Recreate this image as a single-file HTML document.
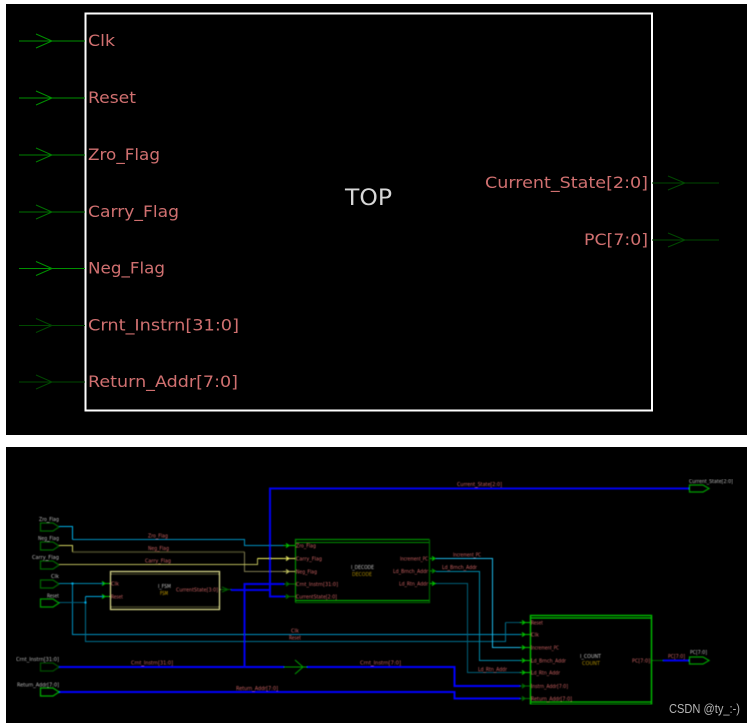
<!DOCTYPE html>
<html><head><meta charset="utf-8"><style>
html,body{margin:0;padding:0;background:#fff}
svg{display:block}
text{font-family:"DejaVu Sans",sans-serif}
</style></head><body>
<svg width="755" height="726" viewBox="0 0 755 726" xmlns="http://www.w3.org/2000/svg">
<defs><filter id="b" x="0" y="0" width="100%" height="100%"><feGaussianBlur stdDeviation="0.4"/></filter></defs>
<rect width="755" height="726" fill="#fff"/>
<rect x="6" y="4" width="741" height="431" fill="#000"/>
<rect x="6" y="447" width="741" height="276" fill="#000"/>

<!-- TOP PANEL -->
<rect x="85.5" y="13.5" width="566.5" height="397" fill="none" stroke="#ffffff" stroke-width="2"/>
<g fill="none" stroke-width="1">
<path stroke="#009000" d="M19 41H85M36 34L52 41L36 48"/>
<path stroke="#009000" d="M19 98H85M36 91L52 98L36 105"/>
<path stroke="#008000" d="M19 155H85M36 148L52 155L36 162"/>
<path stroke="#007000" d="M19 212H85M36 205L52 212L36 219"/>
<path stroke="#009000" d="M19 268.5H85M36 261.5L52 268.5L36 275.5"/>
<path stroke="#004800" d="M19 325.5H85M36 318.5L52 325.5L36 332.5"/>
<path stroke="#004800" d="M19 382H85M36 375L52 382L36 389"/>
<path stroke="#004800" d="M652 183H719M668 176L685 183L668 190"/>
<path stroke="#004800" d="M652 240H719M668 233L685 240L668 247"/>
</g>
<g fill="#d07070" font-size="16">
<text x="88" y="46" textLength="27" lengthAdjust="spacingAndGlyphs">Clk</text>
<text x="88" y="103" textLength="48" lengthAdjust="spacingAndGlyphs">Reset</text>
<text x="88" y="160" textLength="72" lengthAdjust="spacingAndGlyphs">Zro_Flag</text>
<text x="88" y="217" textLength="91" lengthAdjust="spacingAndGlyphs">Carry_Flag</text>
<text x="88" y="273.5" textLength="77" lengthAdjust="spacingAndGlyphs">Neg_Flag</text>
<text x="88" y="330.5" textLength="151" lengthAdjust="spacingAndGlyphs">Crnt_Instrn[31:0]</text>
<text x="88" y="387" textLength="150" lengthAdjust="spacingAndGlyphs">Return_Addr[7:0]</text>
<text x="485" y="188" textLength="163" lengthAdjust="spacingAndGlyphs">Current_State[2:0]</text>
<text x="584" y="245" textLength="64" lengthAdjust="spacingAndGlyphs">PC[7:0]</text>
</g>
<text x="345" y="205" font-size="22" fill="#d8d8d8" textLength="47" lengthAdjust="spacingAndGlyphs">TOP</text>

<!-- BOTTOM PANEL -->
<g filter="url(#b)">
<g fill="none" stroke-linejoin="miter">
<!-- thin wires -->
<path stroke="#00b0e8" stroke-width="1" d="M59 526.5H72.5V539.5"/>
<path stroke="#0090c0" stroke-width="1" d="M72.5 539.5H244.5V545.5H283"/>
<path stroke="#d0d060" stroke-width="1" d="M59 545.5H72.5V552"/>
<path stroke="#4c4c28" stroke-width="1.4" d="M72.5 552H244.5"/>
<path stroke="#807c50" stroke-width="1" d="M244.5 552V571.5H283"/>
<path stroke="#b8b858" stroke-width="1" d="M59 564.5H257.5V558.5"/>
<path stroke="#f8f860" stroke-width="1" d="M257.5 558.5H283"/>
<path stroke="#0088b0" stroke-width="1" d="M59 583.5H103"/>
<path stroke="#0090c0" stroke-width="1" d="M72.5 583.5V634.5H522"/>
<path stroke="#005c78" stroke-width="1" d="M59 602.5H85.5"/>
<path stroke="#00a8e0" stroke-width="1" d="M85.5 596.5H103"/>
<path stroke="#0090c0" stroke-width="1" d="M85.5 596.5V602.5"/>
<path stroke="#007090" stroke-width="1" d="M85.5 602.5V641.5H505.5V622.5"/>
<path stroke="#005870" stroke-width="1" d="M505.5 622.5H522"/>
<path stroke="#20b8e8" stroke-width="1" d="M436 558.5H492.5V647.5H522"/>
<path stroke="#0088a8" stroke-width="1" d="M436 571.5H479.5V660.5H522"/>
<path stroke="#006078" stroke-width="1" d="M436 583.5H467.5V672.5H522"/>
<!-- thick blue -->
<path stroke="#0000ff" stroke-width="2" d="M59 667H284M307 667H454.5V686H520"/>
<path stroke="#0000ff" stroke-width="2" d="M59 692H454.5V698.5H520"/>
<path stroke="#0000f0" stroke-width="2" d="M244.5 667V584H284"/>
<path stroke="#0000f0" stroke-width="2" d="M231 590H270"/>
<path stroke="#0000f0" stroke-width="2" d="M689 488.5H270V596.5H285"/>
<path stroke="#0000f0" stroke-width="2" d="M663 660.5H689"/>
<!-- green stubs -->
<path stroke="#00a000" stroke-width="1" d="M284 667H307M295 660L303 667L295 674"/>
<path stroke="#006000" stroke-width="1" d="M220 589.5H231M222 587L228 589.5L222 592"/>
<path stroke="#006000" stroke-width="1" d="M652 660.5H663"/>
<!-- ports -->
<g stroke-width="1.2">
<path stroke="#006800" d="M40.5 523H53L59 527L53 531H40.5Z"/>
<path stroke="#006800" d="M40.5 542H53L59 546L53 550H40.5Z"/>
<path stroke="#006800" d="M40.5 561H53L59 565L53 569H40.5Z"/>
<path stroke="#006800" d="M40.5 580H53L59 584L53 588H40.5Z"/>
<path stroke="#00a000" d="M40.5 599H53L59 603L53 607H40.5Z"/>
<path stroke="#005000" d="M40.5 663H53L59 667L53 671H40.5Z"/>
<path stroke="#00b000" d="M40.5 688H53L59 692L53 696H40.5Z"/>
<path stroke="#00a000" d="M689.5 485H703L709 488.5L703 492H689.5Z"/>
<path stroke="#00a000" d="M689.5 657H703L709 660.5L703 664H689.5Z"/>
</g>
<!-- FSM -->
<rect x="110.5" y="571.5" width="109" height="38" stroke="#e0e090" stroke-width="1.2"/>
<path stroke="#3c3c20" stroke-width="1.5" d="M111 574H219M111 607H219"/>
<!-- DECODE -->
<path stroke="#009000" stroke-width="1.2" d="M295.5 602.5V539.5H429.5"/>
<path stroke="#006000" stroke-width="1.2" d="M429.5 539.5V602.5H295.5"/>
<path stroke="#009000" stroke-width="1" d="M296 542.5H429"/>
<path stroke="#00c000" stroke-width="1" d="M296 600.5H429"/>
<!-- COUNT -->
<rect x="530.5" y="615.5" width="121" height="89" stroke="#00c000" stroke-width="1.4"/>
<path stroke="#00c800" stroke-width="1.2" d="M531 618H651M531 702H651"/>
<!-- pin arrows -->
<g stroke="#00c000" stroke-width="1.1">
<path d="M283 545.5H295M286 543.5L289 545.5L286 547.5"/>
<path d="M283 558.5H295M286 556.5L289 558.5L286 560.5" stroke="#e8e860"/>
<path d="M283 571.5H295M286 569.5L289 571.5L286 573.5" stroke="#c0c060"/>
<path d="M284 584H295M286 582L289 584L286 586" stroke="#007000"/>
<path d="M285 596.5H295M286 594.5L289 596.5L286 598.5" stroke="#007000"/>
<path d="M430 558.5H436M432 556.5L435 558.5L432 560.5"/>
<path d="M430 571H436M432 569L435 571L432 573" stroke="#009000"/>
<path d="M430 583.5H436M432 581.5L435 583.5L432 585.5"/>
<path d="M103 583.5H110M102 581.5L105 583.5L102 585.5"/>
<path d="M103 596.5H110M102 594.5L105 596.5L102 598.5"/>
<path d="M520 622.5H530M522 620.5L525 622.5L522 624.5"/>
<path d="M520 634.5H530M522 632.5L525 634.5L522 636.5"/>
<path d="M520 647.5H530M522 645.5L525 647.5L522 649.5"/>
<path d="M520 660.5H530M522 658.5L525 660.5L522 662.5"/>
<path d="M520 672.5H530M522 670.5L525 672.5L522 674.5"/>
<path d="M520 686H530M522 684L525 686L522 688" stroke="#007000"/>
<path d="M520 698.5H530M522 696.5L525 698.5L522 700.5" stroke="#007000"/>
</g>
<!-- junction dots -->
<rect x="71.5" y="582.5" width="2" height="2" fill="#00b0e8" stroke="none"/>
<rect x="84.5" y="601.5" width="2" height="2" fill="#00b0e8" stroke="none"/>
<rect x="243.5" y="666" width="2" height="2" fill="#0000e0" stroke="none"/>
</g>

<!-- port labels -->
<g fill="#b8b8b8" font-size="5.2" lengthAdjust="spacingAndGlyphs">
<text x="39" y="521" textLength="20" lengthAdjust="spacingAndGlyphs">Zro_Flag</text>
<text x="38" y="540" textLength="21" lengthAdjust="spacingAndGlyphs">Neg_Flag</text>
<text x="32" y="559" textLength="27" lengthAdjust="spacingAndGlyphs">Carry_Flag</text>
<text x="51" y="578" textLength="8" lengthAdjust="spacingAndGlyphs">Clk</text>
<text x="47" y="597.5" textLength="12" lengthAdjust="spacingAndGlyphs">Reset</text>
<text x="16" y="661" textLength="43" lengthAdjust="spacingAndGlyphs">Crnt_Instrn[31:0]</text>
<text x="17" y="686.5" textLength="42" lengthAdjust="spacingAndGlyphs">Return_Addr[7:0]</text>
<text x="689" y="483" textLength="44" lengthAdjust="spacingAndGlyphs">Current_State[2:0]</text>
<text x="690" y="654" textLength="17" lengthAdjust="spacingAndGlyphs">PC[7:0]</text>
</g>
<!-- wire + pin labels -->
<g fill="#c86060" font-size="5.2">
<text x="148" y="537.5" textLength="20" lengthAdjust="spacingAndGlyphs">Zro_Flag</text>
<text x="148" y="550" textLength="21" lengthAdjust="spacingAndGlyphs">Neg_Flag</text>
<text x="145" y="562.5" textLength="26" lengthAdjust="spacingAndGlyphs">Carry_Flag</text>
<text x="131" y="664.5" textLength="42" lengthAdjust="spacingAndGlyphs">Crnt_Instrn[31:0]</text>
<text x="236" y="690" textLength="42" lengthAdjust="spacingAndGlyphs">Return_Addr[7:0]</text>
<text x="457" y="486" textLength="45" lengthAdjust="spacingAndGlyphs">Current_State[2:0]</text>
<text x="453" y="556.5" textLength="28" lengthAdjust="spacingAndGlyphs">Increment_PC</text>
<text x="442" y="569" textLength="35" lengthAdjust="spacingAndGlyphs">Ld_Brnch_Addr</text>
<text x="478" y="671" textLength="29" lengthAdjust="spacingAndGlyphs">Ld_Rtn_Addr</text>
<text x="291" y="632.5" textLength="8" lengthAdjust="spacingAndGlyphs">Clk</text>
<text x="289" y="639.5" textLength="12" lengthAdjust="spacingAndGlyphs">Reset</text>
<text x="360" y="664.5" textLength="41" lengthAdjust="spacingAndGlyphs">Crnt_Instrn[7:0]</text>
<text x="668" y="658" textLength="17" lengthAdjust="spacingAndGlyphs">PC[7:0]</text>
<!-- FSM pins -->
<text x="111" y="585.5" textLength="8" lengthAdjust="spacingAndGlyphs">Clk</text>
<text x="111" y="598.5" textLength="12" lengthAdjust="spacingAndGlyphs">Reset</text>
<text x="176" y="591.5" textLength="42" lengthAdjust="spacingAndGlyphs">CurrentState[3:0]</text>
<!-- DECODE pins -->
<text x="296" y="547.5" textLength="20" lengthAdjust="spacingAndGlyphs">Zro_Flag</text>
<text x="296" y="560.5" textLength="26" lengthAdjust="spacingAndGlyphs">Carry_Flag</text>
<text x="296" y="573.5" textLength="21" lengthAdjust="spacingAndGlyphs">Neg_Flag</text>
<text x="296" y="586" textLength="42" lengthAdjust="spacingAndGlyphs">Crnt_Instrn[31:0]</text>
<text x="296" y="598.5" textLength="41" lengthAdjust="spacingAndGlyphs">CurrentState[2:0]</text>
<text x="400" y="560.5" textLength="28" lengthAdjust="spacingAndGlyphs">Increment_PC</text>
<text x="393" y="573" textLength="35" lengthAdjust="spacingAndGlyphs">Ld_Brnch_Addr</text>
<text x="399" y="585.5" textLength="29" lengthAdjust="spacingAndGlyphs">Ld_Rtn_Addr</text>
<!-- COUNT pins -->
<text x="531" y="624.5" textLength="12" lengthAdjust="spacingAndGlyphs">Reset</text>
<text x="531" y="636.5" textLength="8" lengthAdjust="spacingAndGlyphs">Clk</text>
<text x="531" y="649.5" textLength="28" lengthAdjust="spacingAndGlyphs">Increment_PC</text>
<text x="531" y="662.5" textLength="35" lengthAdjust="spacingAndGlyphs">Ld_Brnch_Addr</text>
<text x="531" y="674.5" textLength="29" lengthAdjust="spacingAndGlyphs">Ld_Rtn_Addr</text>
<text x="531" y="688" textLength="37" lengthAdjust="spacingAndGlyphs">Instrn_Addr[7:0]</text>
<text x="531" y="700.5" textLength="41" lengthAdjust="spacingAndGlyphs">Return_Addr[7:0]</text>
<text x="632" y="662.5" textLength="18" lengthAdjust="spacingAndGlyphs">PC[7:0]</text>
</g>
<!-- instance labels -->
<g font-size="5.2">
<text x="158" y="588" fill="#c0c0c0" textLength="13" lengthAdjust="spacingAndGlyphs">I_FSM</text>
<text x="160" y="595" fill="#c8a000" textLength="8" lengthAdjust="spacingAndGlyphs">FSM</text>
<text x="351" y="569" fill="#c0c0c0" textLength="23" lengthAdjust="spacingAndGlyphs">I_DECODE</text>
<text x="352" y="576" fill="#a88800" textLength="20" lengthAdjust="spacingAndGlyphs">DECODE</text>
<text x="580" y="658" fill="#c0c0c0" textLength="21" lengthAdjust="spacingAndGlyphs">I_COUNT</text>
<text x="582" y="665" fill="#a88800" textLength="18" lengthAdjust="spacingAndGlyphs">COUNT</text>
</g>
</g>
<text x="669" y="713" font-size="13" fill="#b4b4b4" style="font-family:'Liberation Sans',sans-serif" textLength="71" lengthAdjust="spacingAndGlyphs">CSDN @ty_:-)</text>
</svg>
</body></html>
